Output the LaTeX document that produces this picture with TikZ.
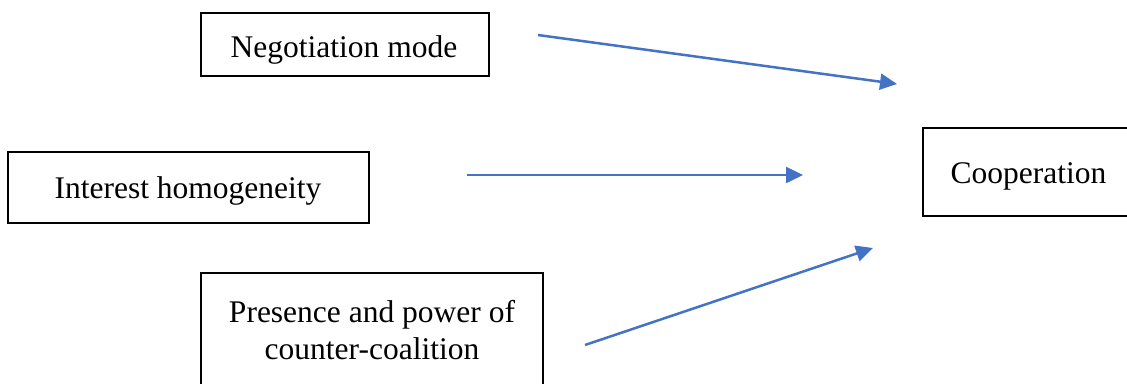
\documentclass[tikz,border=0pt]{standalone}
\usepackage{fontspec}
\setmainfont{Liberation Serif}
\usetikzlibrary{arrows.meta}
\definecolor{arrowblue}{HTML}{4472C4}
\begin{document}
\begin{tikzpicture}[x=1pt,y=-1pt,
  box/.style={draw=black,line width=2.3pt,fill=white,inner sep=0pt},
  txt/.style={inner sep=0pt,anchor=base,align=center,font=\fontsize{31.5}{37}\selectfont},
  link/.style={draw=arrowblue,line width=2.5pt,-{Triangle[length=17pt,width=16pt]}}]
\useasboundingbox (0,0) rectangle (1127,383);
\clip (0,0) rectangle (1127,383);
\fill[white] (0,0) rectangle (1127,383);
\node[box,minimum width=288pt,minimum height=63pt] (neg) at (345,44.5) {};
\node[box,minimum width=361pt,minimum height=71pt] (int) at (188.5,187.5) {};
\node[box,minimum width=240pt,minimum height=88pt,anchor=west] (coop) at (922,172) {};
\node[box,minimum width=342pt,minimum height=126pt,anchor=north] (pres) at (372,272) {};
\node[txt] (negt) at (344,57) {Negotiation mode};
\node[txt] (intt) at (188,198) {Interest homogeneity};
\node[txt] (coopt) at (1028.5,183) {Cooperation};
\node[txt] (prest) at (372,359) {Presence and power of\\counter-coalition};
\coordinate (a1s) at (538,35);
\coordinate (a1e) at (897,84);
\coordinate (a2s) at (467,175);
\coordinate (a2e) at (803,175);
\coordinate (a3s) at (585,345);
\coordinate (a3e) at (873,248);
\draw[link] (a1s) -- (a1e);
\draw[link] (a2s) -- (a2e);
\draw[link] (a3s) -- (a3e);
\end{tikzpicture}
\end{document}
